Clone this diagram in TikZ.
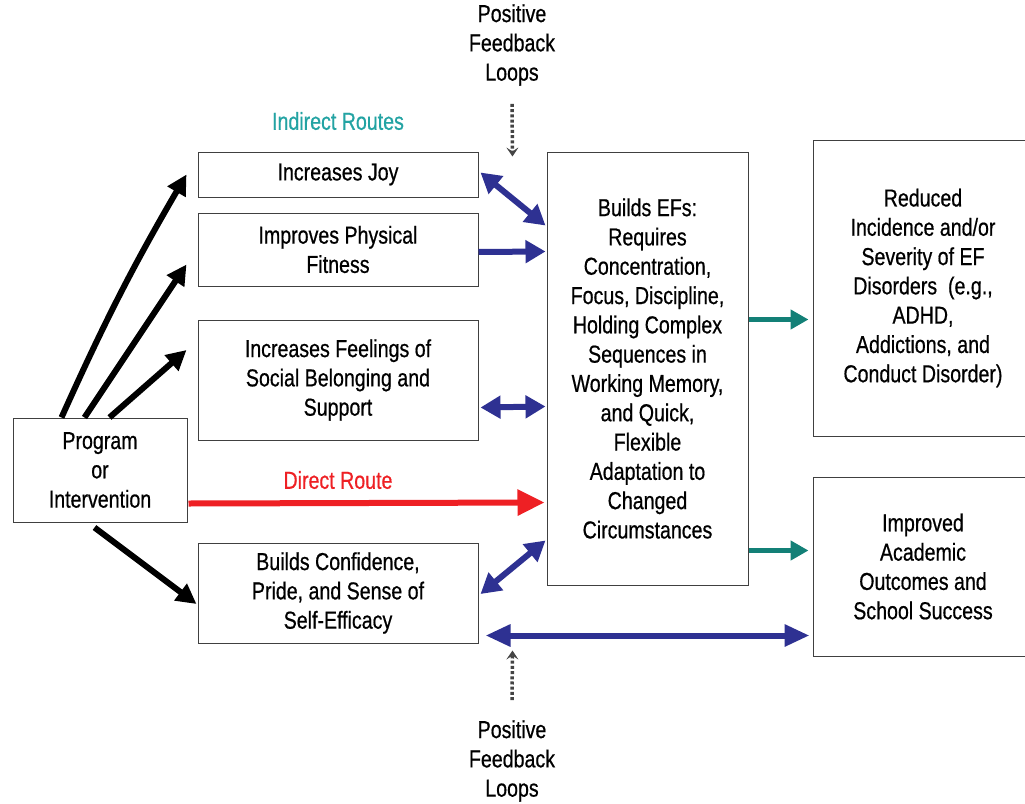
\documentclass[tikz,border=0pt]{standalone}
\usepackage{fontspec}
\setmainfont[FakeStretch=0.8,FakeBold=0.6]{Liberation Sans}
\usetikzlibrary{arrows.meta,calc}
\definecolor{efblue}{HTML}{2E3192}
\definecolor{efteal}{HTML}{138077}
\definecolor{efred}{HTML}{EE2024}
\definecolor{eflabel}{HTML}{23A3A3}
\definecolor{efgray}{HTML}{444444}
\begin{document}
\begin{tikzpicture}[x=1pt,y=-1pt,
  txt/.style={font=\fontsize{24.5}{29.3}\selectfont, align=center, inner sep=0pt},
  box/.style={txt, draw=black!75, line width=1pt},
  blk/.style={line width=6pt, -{Triangle[length=20pt,width=20pt]}},
  redarr/.style={efred, line width=6pt, -{Triangle[length=27pt,width=25pt]}},
  bluearr/.style={efblue, line width=6pt, -{Triangle[length=20pt,width=22pt]}},
  bluedbl/.style={efblue, line width=6pt, {Triangle[length=20pt,width=22pt]}-{Triangle[length=20pt,width=22pt]}},
  bluelong/.style={efblue, line width=6pt, {Triangle[length=25pt,width=21pt]}-{Triangle[length=25pt,width=21pt]}},
  tealarr/.style={efteal, line width=5pt, -{Triangle[length=18pt,width=19pt]}},
  fb/.style={efgray, line width=3.5pt, dash pattern=on 3pt off 2.2pt, -{Stealth[length=9pt,width=12pt,inset=4pt]}}]
\useasboundingbox (0,0) rectangle (1025,803);
\clip (0,0) rectangle (1025,803);

\node[box, minimum width=174pt, minimum height=104pt] (prog) at (100,470) {Program\\or\\Intervention};
\node[box, minimum width=280pt, minimum height=45pt] (joy) at (338,174.5) {Increases Joy};
\node[box, minimum width=280pt, minimum height=73pt] (fit) at (338,249.5) {Improves Physical\\Fitness};
\node[box, minimum width=280pt, minimum height=120pt] (feel) at (338,380) {Increases Feelings of\\Social Belonging and\\Support};
\node[box, minimum width=280pt, minimum height=100pt] (conf) at (338,593) {Builds Confidence,\\Pride, and Sense of\\Self-Efficacy};
\node[box, minimum width=201pt, minimum height=433pt] (ef) at (647.5,368.5) {Builds EFs:\\Requires\\Concentration,\\Focus, Discipline,\\Holding Complex\\Sequences in\\Working Memory,\\and Quick,\\Flexible\\Adaptation to\\Changed\\Circumstances};
\node[box, minimum width=220pt, minimum height=296pt] (red) at (923,288) {Reduced\\Incidence and/or\\Severity of EF\\Disorders~ (e.g.,\\ADHD,\\Addictions, and\\Conduct Disorder)};
\node[box, minimum width=220pt, minimum height=179pt] (acad) at (923,566.5) {Improved\\Academic\\Outcomes and\\School Success};

\node[txt, text=eflabel] (ilab) at (338,121) {Indirect Routes};
\node[txt, text=efred] (dlab) at (338,480) {Direct Route};
\node[txt] (pfltop) at (512,45) {Positive\\Feedback\\Loops};
\node[txt] (pflbot) at (512,761) {Positive\\Feedback\\Loops};

% black arrows
\draw[blk] ($(prog.north west)+(49,0)$) to[bend left=3] ($(joy.west)+(-11,0)$);
\draw[blk] ($(prog.north west)+(72,0)$) -- ($(fit.west)+(-11,15)$);
\draw[blk] ($(prog.north west)+(97,0)$) -- ($(feel.west)+(-11,-30)$);
\draw[blk] ($(prog.south west)+(82,5)$) -- ($(conf.west)+(-1,11)$);

% red direct route
\draw[redarr] ($(prog.south east)+(1,-19)$) -- ($(ef.north west)+(-2,351)$);

% blue arrows
\draw[bluedbl] ($(joy.east)+(2,-2)$) -- ($(ef.north west)+(-1,74)$);
\draw[bluearr] ($(fit.east)+(0,2.5)$) -- ($(ef.north west)+(-1,100)$);
\draw[bluedbl] ($(feel.south east)+(2,-33)$) -- ($(ef.north west)+(-1,255)$);
\draw[bluedbl] ($(conf.east)+(2,1)$) -- ($(ef.south west)+(-1,-45)$);
\draw[bluelong] ($(conf.south east)+(7,-8)$) -- ($(acad.south west)+(-3,-21)$);

% teal arrows
\draw[tealarr] ($(ef.north east)+(0,168)$) -- ($(red.north west)+(-4,180)$);
\draw[tealarr] ($(ef.north east)+(0,399)$) -- ($(acad.north west)+(-4,74)$);

% feedback loops
\coordinate (fbtop) at ($(joy.north east)!0.5!(ef.north west)+(0,5)$);
\coordinate (fbbot) at ($(fbtop |- conf.south)+(0,7)$);
\draw[fb] ($(pfltop.south)+(0,18)$) -- (fbtop);
\draw[fb] ($(pflbot.north)+(0,-20)$) -- (fbbot);
\end{tikzpicture}
\end{document}
